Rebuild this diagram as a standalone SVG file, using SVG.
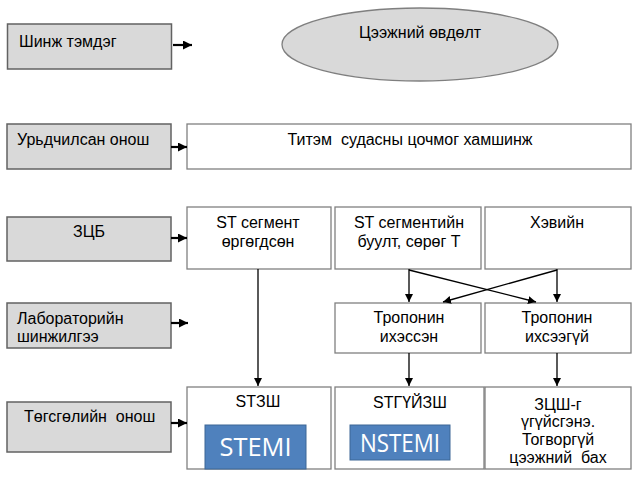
<svg xmlns="http://www.w3.org/2000/svg" width="638" height="479" viewBox="0 0 638 479">
<defs>
<marker id="ah" markerUnits="userSpaceOnUse" markerWidth="9" markerHeight="9" refX="8" refY="4" orient="auto">
<path d="M0,0 L8,4 L0,8 z" fill="#000"/>
</marker>
<marker id="ahb" markerUnits="userSpaceOnUse" markerWidth="10" markerHeight="10" refX="9" refY="4.5" orient="auto">
<path d="M0,0 L9,4.5 L0,9 z" fill="#000"/>
</marker>
<style>
.g{fill:#d9d9d9;stroke:#626262;stroke-width:1.5}
.w{fill:#fff;stroke:#808080;stroke-width:1.3}
.b{fill:#4f81bd;stroke:#3c6796;stroke-width:1}
.t{font-family:"Liberation Sans",Arial,sans-serif;font-size:16px;fill:#000;white-space:pre}
.m{text-anchor:middle}
.e{font-family:"Open Sans","Liberation Sans",sans-serif;font-size:25px;fill:#fff;text-anchor:middle}
.c{fill:none;stroke:#000;stroke-width:1.3}
.h{fill:none;stroke:#000;stroke-width:2.2}
</style>
</defs>
<rect width="638" height="479" fill="#fff"/>
<g id="n-shinj"><rect class="g" x="7.5" y="24" width="164" height="45"/><text class="t" x="19" y="47">Шинж тэмдэг</text></g>
<g id="n-tseej"><ellipse cx="420" cy="44.5" rx="138" ry="36.5" fill="#d9d9d9" stroke="#7f7f7f" stroke-width="1.3"/><text class="t m" x="420" y="38">Цээжний өвдөлт</text></g>
<g id="n-urid"><rect class="g" x="7" y="124" width="164" height="45"/><text class="t" x="17" y="145">Урьдчилсан онош</text></g>
<g id="n-titem"><rect class="w" x="187" y="124" width="444" height="45"/><text class="t m" x="410" y="145">Титэм  судасны цочмог хамшинж</text></g>
<g id="n-zcb"><rect class="g" x="7" y="217" width="164" height="44"/><text class="t m" x="89" y="237">ЗЦБ</text></g>
<g id="n-st1"><rect class="w" x="187" y="207" width="144" height="62"/><text class="t m" x="258" y="228">ST сегмент</text><text class="t m" x="258" y="247">өргөгдсөн</text></g>
<g id="n-st2"><rect class="w" x="335" y="207" width="146" height="62"/><text class="t m" x="409" y="228">ST сегментийн</text><text class="t m" x="409" y="247">буулт, сөрөг Т</text></g>
<g id="n-hev"><rect class="w" x="485" y="207" width="146" height="62"/><text class="t m" x="557" y="228">Хэвийн</text></g>
<g id="n-lab"><rect class="g" x="7" y="303" width="164" height="45"/><text class="t" x="17" y="324">Лабораторийн</text><text class="t" x="17" y="342">шинжилгээ</text></g>
<g id="n-trop1"><rect class="w" x="335" y="303" width="146" height="50"/><text class="t m" x="409" y="323">Тропонин</text><text class="t m" x="409" y="342">ихэссэн</text></g>
<g id="n-trop2"><rect class="w" x="485" y="303" width="146" height="50"/><text class="t m" x="557" y="323">Тропонин</text><text class="t m" x="557" y="342">ихсээгүй</text></g>
<g id="n-tugs"><rect class="g" x="7" y="402" width="164" height="50"/><text class="t" x="24" y="422">Төгсгөлийн  онош</text></g>
<g id="n-stzsh"><rect class="w" x="187" y="387" width="144" height="82"/><text class="t m" x="258" y="407">STЗШ</text><rect class="b" x="205" y="425" width="101" height="44"/><text class="e" x="255.5" y="456" textLength="72" lengthAdjust="spacingAndGlyphs">STEMI</text></g>
<g id="n-stguy"><rect class="w" x="335" y="387" width="149" height="82"/><text class="t m" x="410" y="408">STГҮЙЗШ</text><rect class="b" x="350" y="425" width="100" height="35"/><text class="e" x="400" y="452" textLength="80" lengthAdjust="spacingAndGlyphs">NSTEMI</text></g>
<g id="n-zcsh"><rect class="w" x="485" y="387" width="146" height="82"/><text class="t m" x="558" y="410">ЗЦШ-г</text><text class="t m" x="558" y="427">үгүйсгэнэ.</text><text class="t m" x="558" y="445">Тогворгүй</text><text class="t m" x="558" y="463">цээжний  бах</text></g>
<g id="connectors">
<line class="h" x1="173" y1="45" x2="192" y2="45" marker-end="url(#ahb)"/>
<line class="h" x1="171" y1="147" x2="187" y2="147" marker-end="url(#ahb)"/>
<line class="h" x1="171" y1="238" x2="187" y2="238" marker-end="url(#ahb)"/>
<line class="h" x1="171" y1="323" x2="188" y2="323" marker-end="url(#ahb)"/>
<line class="h" x1="171" y1="423" x2="187" y2="423" marker-end="url(#ahb)"/>
<line class="c" x1="258" y1="269" x2="258" y2="386" marker-end="url(#ah)"/>
<line class="c" x1="409" y1="269" x2="409" y2="302" marker-end="url(#ah)"/>
<line class="c" x1="557" y1="269" x2="557" y2="302" marker-end="url(#ah)"/>
<line class="c" x1="409" y1="270" x2="536" y2="302" marker-end="url(#ah)"/>
<line class="c" x1="557" y1="270" x2="443" y2="302" marker-end="url(#ah)"/>
<line class="c" x1="409" y1="353" x2="409" y2="386" marker-end="url(#ah)"/>
<line class="c" x1="557" y1="353" x2="557" y2="386" marker-end="url(#ah)"/>
</g>
</svg>
